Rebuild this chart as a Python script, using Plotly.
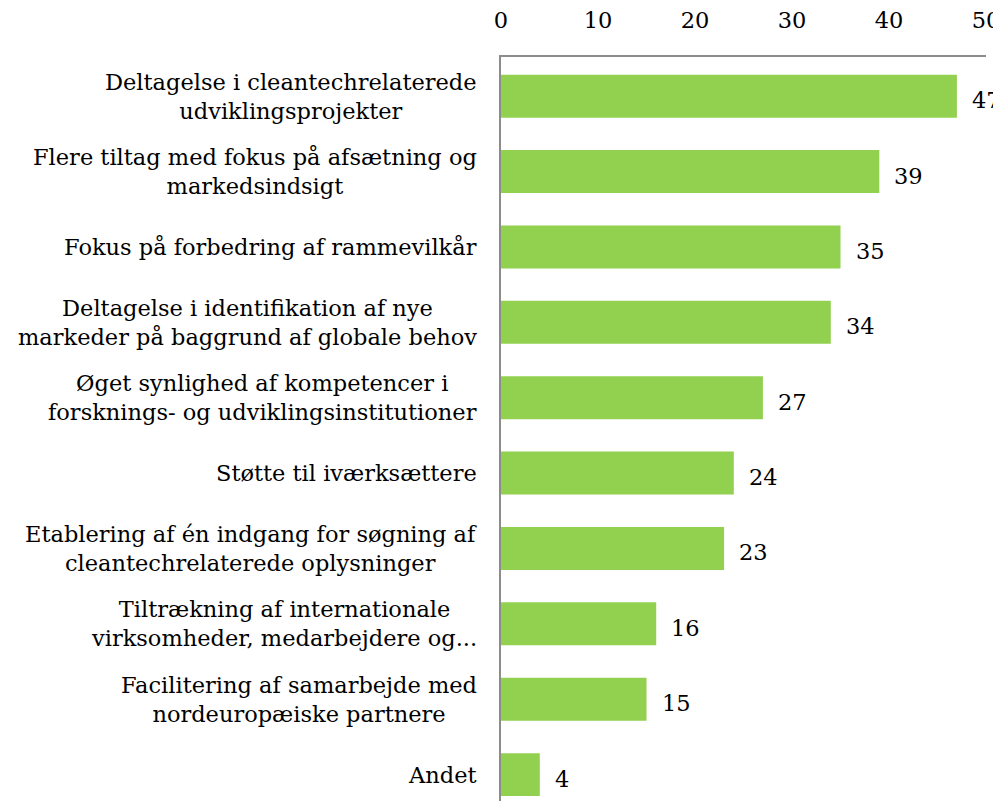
import plotly.graph_objects as go

categories = [
    "Deltagelse i cleantechrelaterede<br>udviklingsprojekter",
    "Flere tiltag med fokus på afsætning og<br>markedsindsigt",
    "Fokus på forbedring af rammevilkår",
    "Deltagelse i identifikation af nye<br>markeder på baggrund af globale behov",
    "Øget synlighed af kompetencer i<br>forsknings- og udviklingsinstitutioner",
    "Støtte til iværksættere",
    "Etablering af én indgang for søgning af<br>cleantechrelaterede oplysninger",
    "Tiltrækning af internationale<br>virksomheder, medarbejdere og...",
    "Facilitering af samarbejde med<br>nordeuropæiske partnere",
    "Andet",
]
values = [47, 39, 35, 34, 27, 24, 23, 16, 15, 4]
x_ticks = [0, 10, 20, 30, 40, 50]

FONT = "DejaVu Serif"
TEXT_COLOR = "#000000"
BAR_COLOR = "#92D050"
AXIS_COLOR = "#8C8C8C"

fig = go.Figure(
    go.Bar(
        x=values,
        y=categories,
        orientation="h",
        marker=dict(color=BAR_COLOR, line=dict(width=0)),
        hoverinfo="skip",
    )
)

annotations = []
for cat, val in zip(categories, values):
    annotations.append(dict(
        x=0, xref="paper", y=cat, yref="y",
        text=cat, showarrow=False, xanchor="right", yanchor="middle",
        align="center", xshift=-22,
        font=dict(family=FONT, size=22.5, color=TEXT_COLOR),
    ))
    annotations.append(dict(
        x=val, xref="x", y=cat, yref="y",
        text=str(val), showarrow=False, xanchor="left", yanchor="middle",
        xshift=13, yshift=-4,
        font=dict(family=FONT, size=22.5, color=TEXT_COLOR),
    ))

# page body adds an 8px offset, so the figure is sized to the remaining viewport
fig.update_layout(
    width=993, height=793,
    margin=dict(l=493, r=15, t=49, b=0, autoexpand=False),
    paper_bgcolor="white", plot_bgcolor="white",
    showlegend=False,
    bargap=0.43,
    annotations=annotations,
    xaxis=dict(
        side="top", range=[0, 50], tickvals=x_ticks,
        showgrid=False, zeroline=False, automargin=False,
        showline=True, linecolor=AXIS_COLOR, linewidth=1.5,
        ticks="", ticklabelstandoff=18,
        tickfont=dict(family=FONT, size=22.5, color=TEXT_COLOR),
    ),
    yaxis=dict(
        type="category", categoryorder="array", categoryarray=categories,
        range=[9.35, -0.52], automargin=False,
        showticklabels=False, showgrid=False, zeroline=False,
        showline=True, linecolor=AXIS_COLOR, linewidth=1.5, ticks="",
    ),
)

fig.write_html("out.html")
